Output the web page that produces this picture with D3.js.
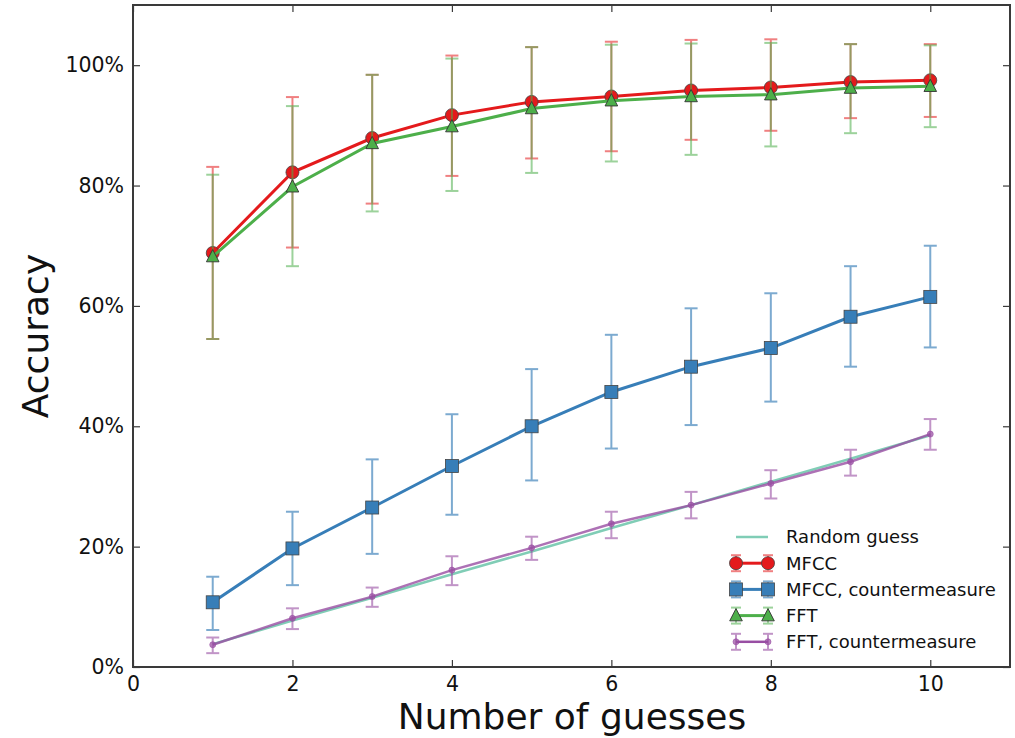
<!DOCTYPE html>
<html>
<head>
<meta charset="utf-8">
<script src="https://cdn.jsdelivr.net/npm/d3@7"></script>
<style>
  html, body { margin: 0; padding: 0; background: #fff; }
  svg { display: block; font-family: "DejaVu Sans", sans-serif; }
</style>
</head>
<body>
<svg id="chart" width="1015" height="738"></svg>
<script>
// Number of guesses on the x axis
const guesses = [1, 2, 3, 4, 5, 6, 7, 8, 9, 10];

// Accuracy of a random guess among 26 letters
const randomGuess = [0.038, 0.077, 0.115, 0.154, 0.192, 0.231, 0.269, 0.308, 0.346, 0.385];

// MFCC features: mean and error-bar bounds
const mfcc     = [0.688, 0.822, 0.879, 0.917, 0.939, 0.948, 0.958, 0.963, 0.972, 0.975];
const mfccLow  = [0.545, 0.697, 0.770, 0.816, 0.845, 0.857, 0.876, 0.891, 0.912, 0.914];
const mfccHigh = [0.831, 0.947, 0.984, 1.016, 1.030, 1.039, 1.042, 1.043, 1.035, 1.035];

// MFCC with countermeasure
const mfccCm     = [0.1075, 0.197, 0.265, 0.334, 0.400, 0.457, 0.499, 0.530, 0.582, 0.615];
const mfccCmLow  = [0.0615, 0.136, 0.188, 0.253, 0.310, 0.363, 0.402, 0.441, 0.499, 0.531];
const mfccCmHigh = [0.150, 0.258, 0.345, 0.420, 0.495, 0.552, 0.596, 0.621, 0.666, 0.700];

// FFT features
const fft     = [0.682, 0.798, 0.870, 0.898, 0.928, 0.941, 0.948, 0.951, 0.962, 0.965];
const fftLow  = [0.545, 0.666, 0.757, 0.791, 0.821, 0.840, 0.851, 0.865, 0.887, 0.897];
const fftHigh = [0.818, 0.932, 0.984, 1.011, 1.030, 1.034, 1.036, 1.037, 1.035, 1.033];

// FFT with countermeasure
const fftCm     = [0.037, 0.081, 0.117, 0.161, 0.198, 0.238, 0.269, 0.305, 0.341, 0.387];
const fftCmLow  = [0.023, 0.063, 0.100, 0.136, 0.178, 0.214, 0.247, 0.280, 0.318, 0.361];
const fftCmHigh = [0.049, 0.0975, 0.132, 0.184, 0.2165, 0.258, 0.291, 0.327, 0.361, 0.412];

// Axis ticks and labels
const xTicks = [0, 2, 4, 6, 8, 10];
const yTicks = [0, 0.2, 0.4, 0.6, 0.8, 1.0];
const yTickLabels = ["0%", "20%", "40%", "60%", "80%", "100%"];
const legendLabels = ["Random guess", "MFCC", "MFCC, countermeasure", "FFT", "FFT, countermeasure"];

const svg = d3.select("#chart");
const plotLeft = 133, plotRight = 1010, plotTop = 5, plotBottom = 667;

const x = d3.scaleLinear().domain([0, 11]).range([plotLeft, plotRight]);
const y = d3.scaleLinear().domain([0, 1.1]).range([plotBottom, plotTop]);

const spineColor = "#3a3a3a";
const randomColor = "#80cdb6";

// Series definitions
const series = [
  { name: legendLabels[1], mean: mfcc, low: mfccLow, high: mfccHigh, color: "#e41a1c", marker: "circle", size: 6.5, lw: 3, errOpacity: 0.55 },
  { name: legendLabels[2], mean: mfccCm, low: mfccCmLow, high: mfccCmHigh, color: "#377eb8", marker: "square", size: 6.5, lw: 3, errOpacity: 0.65 },
  { name: legendLabels[3], mean: fft, low: fftLow, high: fftHigh, color: "#4daf4a", marker: "triangle", size: 7, lw: 3, errOpacity: 0.55 },
  { name: legendLabels[4], mean: fftCm, low: fftCmLow, high: fftCmHigh, color: "#984ea3", marker: "dot", size: 3, lw: 2.5, errOpacity: 0.6 }
];

const line = d3.line().x(d => x(d[0])).y(d => y(d[1]));

function drawMarker(g, type, cx, cy, size, color) {
  if (type === "circle") {
    g.append("circle").attr("cx", cx).attr("cy", cy).attr("r", size)
      .attr("fill", color).attr("stroke", "#444").attr("stroke-width", 0.8);
  } else if (type === "square") {
    g.append("rect").attr("x", cx - size).attr("y", cy - size)
      .attr("width", size * 2).attr("height", size * 2)
      .attr("fill", color).attr("stroke", "#444").attr("stroke-width", 0.8);
  } else if (type === "triangle") {
    const s = size;
    g.append("path")
      .attr("d", `M${cx},${cy - s} L${cx + s * 0.9},${cy + s * 0.75} L${cx - s * 0.9},${cy + s * 0.75} Z`)
      .attr("fill", color).attr("stroke", "#333").attr("stroke-width", 0.9);
  } else if (type === "dot") {
    g.append("circle").attr("cx", cx).attr("cy", cy).attr("r", size)
      .attr("fill", color).attr("fill-opacity", 0.7).attr("stroke", color).attr("stroke-width", 0.6);
  }
}

const plot = svg.append("g");

// Random guess baseline
plot.append("path")
  .datum(guesses.map((g, i) => [g, randomGuess[i]]))
  .attr("d", line)
  .attr("fill", "none")
  .attr("stroke", randomColor)
  .attr("stroke-width", 2.5);

// Error bars, lines and markers for each series
const capHalf = 6.5;
series.forEach(s => {
  const eg = plot.append("g").attr("opacity", s.errOpacity)
    .attr("stroke", s.color).attr("stroke-width", 2);
  guesses.forEach((g, i) => {
    const cx = x(g);
    eg.append("line").attr("x1", cx).attr("x2", cx).attr("y1", y(s.low[i])).attr("y2", y(s.high[i]));
    eg.append("line").attr("x1", cx - capHalf).attr("x2", cx + capHalf).attr("y1", y(s.low[i])).attr("y2", y(s.low[i]));
    eg.append("line").attr("x1", cx - capHalf).attr("x2", cx + capHalf).attr("y1", y(s.high[i])).attr("y2", y(s.high[i]));
  });
  plot.append("path")
    .datum(guesses.map((g, i) => [g, s.mean[i]]))
    .attr("d", line)
    .attr("fill", "none")
    .attr("stroke", s.color)
    .attr("stroke-width", s.lw)
    .attr("stroke-opacity", s.marker === "dot" ? 0.8 : 1);
  const mg = plot.append("g");
  guesses.forEach((g, i) => drawMarker(mg, s.marker, x(g), y(s.mean[i]), s.size, s.color));
});

// Axes with inward ticks on all four sides
const tickLen = 7;
const axB = svg.append("g").attr("transform", `translate(0,${plotBottom})`)
  .call(d3.axisBottom(x).tickValues(xTicks).tickSize(-tickLen).tickPadding(9).tickFormat(d3.format("d")));
const axT = svg.append("g").attr("transform", `translate(0,${plotTop})`)
  .call(d3.axisTop(x).tickValues(xTicks).tickSize(-tickLen).tickFormat(""));
const axL = svg.append("g").attr("transform", `translate(${plotLeft},0)`)
  .call(d3.axisLeft(y).tickValues(yTicks).tickSize(-tickLen).tickPadding(9)
    .tickFormat((d, i) => yTickLabels[i]));
const axR = svg.append("g").attr("transform", `translate(${plotRight},0)`)
  .call(d3.axisRight(y).tickValues(yTicks).tickSize(-tickLen).tickFormat(""));

[axB, axT, axL, axR].forEach(a => {
  a.select(".domain").remove();
  a.selectAll(".tick line").attr("stroke", spineColor).attr("stroke-width", 1.2);
  a.selectAll(".tick text").attr("fill", "#111")
    .style("font-family", "'DejaVu Sans', sans-serif").style("font-size", "20.5px");
});

// Frame
svg.append("rect")
  .attr("x", plotLeft).attr("y", plotTop)
  .attr("width", plotRight - plotLeft).attr("height", plotBottom - plotTop)
  .attr("fill", "none").attr("stroke", spineColor).attr("stroke-width", 2);

// Axis titles
svg.append("text")
  .attr("x", 572).attr("y", 729)
  .attr("text-anchor", "middle")
  .style("font-size", "36px").attr("fill", "#111")
  .text("Number of guesses");

svg.append("text")
  .attr("transform", `translate(48,${(plotTop + plotBottom) / 2}) rotate(-90)`)
  .attr("text-anchor", "middle")
  .style("font-size", "36px").attr("fill", "#111")
  .text("Accuracy");

// Legend
const legend = svg.append("g");
const lx0 = 736, lx1 = 768, textX = 786, ly0 = 537, lstep = 26.2;
legend.append("line")
  .attr("x1", lx0).attr("x2", lx1).attr("y1", ly0).attr("y2", ly0)
  .attr("stroke", randomColor).attr("stroke-width", 2.5);
legend.append("text").attr("x", textX).attr("y", ly0).attr("dy", "0.35em")
  .style("font-size", "18px").attr("fill", "#111").text(legendLabels[0]);

series.forEach((s, k) => {
  const ly = ly0 + lstep * (k + 1);
  const eg = legend.append("g").attr("opacity", s.errOpacity)
    .attr("stroke", s.color).attr("stroke-width", 2);
  [lx0, lx1].forEach(cx => {
    eg.append("line").attr("x1", cx).attr("x2", cx).attr("y1", ly - 8).attr("y2", ly + 8);
    eg.append("line").attr("x1", cx - 5).attr("x2", cx + 5).attr("y1", ly - 8).attr("y2", ly - 8);
    eg.append("line").attr("x1", cx - 5).attr("x2", cx + 5).attr("y1", ly + 8).attr("y2", ly + 8);
  });
  legend.append("line")
    .attr("x1", lx0).attr("x2", lx1).attr("y1", ly).attr("y2", ly)
    .attr("stroke", s.color).attr("stroke-width", s.lw);
  [lx0, lx1].forEach(cx => drawMarker(legend, s.marker, cx, ly, s.size, s.color));
  legend.append("text").attr("x", textX).attr("y", ly).attr("dy", "0.35em")
    .style("font-size", "18px").attr("fill", "#111").text(s.name);
});
</script>
</body>
</html>
